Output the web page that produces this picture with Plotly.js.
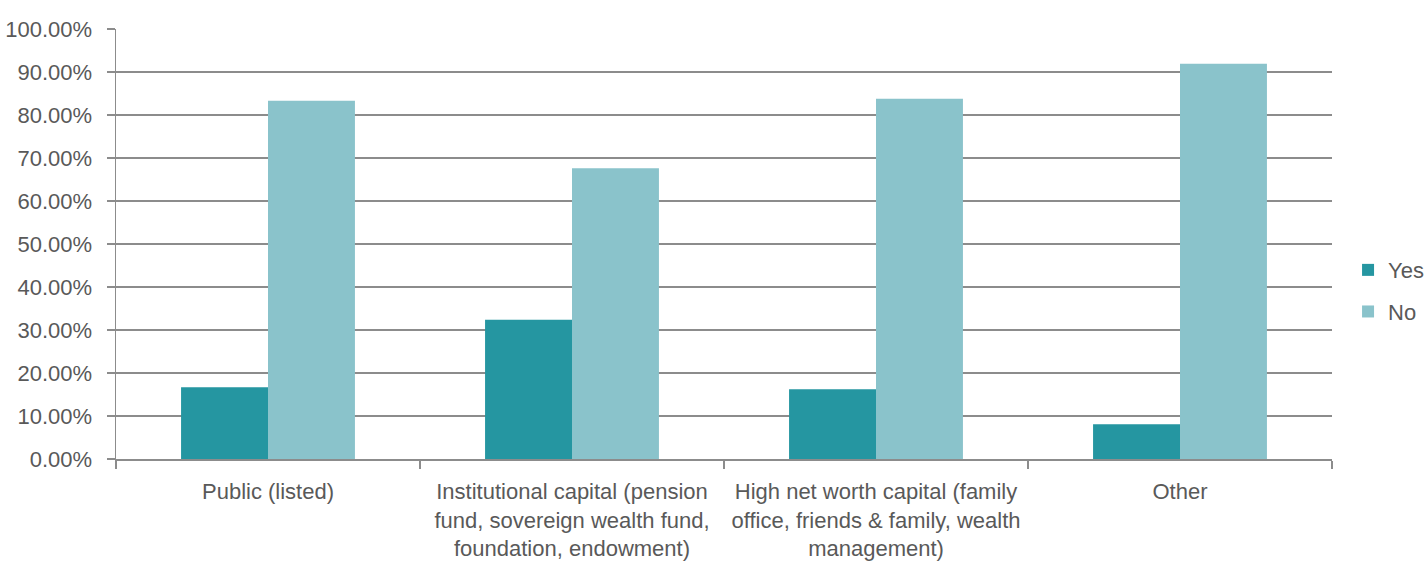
<!DOCTYPE html>
<html>
<head>
<meta charset="utf-8">
<script src="https://cdn.plot.ly/plotly-3.0.1.min.js"></script>
<style>html,body{margin:0;padding:0;background:#fff;}#chart{width:1425px;height:563px;}</style>
</head>
<body>
<div id="chart"></div>
<script>
const categories = [
  "Public (listed)",
  "Institutional capital (pension<br>fund, sovereign wealth fund,<br>foundation, endowment)",
  "High net worth capital (family<br>office, friends & family, wealth<br>management)",
  "Other"
];
const yesValues = [16.67, 32.4, 16.2, 8.1];
const noValues = [83.33, 67.6, 83.8, 91.9];
const yTickValues = [0, 10, 20, 30, 40, 50, 60, 70, 80, 90, 100];
const yTickLabels = ["0.00%", "10.00%", "20.00%", "30.00%", "40.00%", "50.00%", "60.00%", "70.00%", "80.00%", "90.00%", "100.00%"];

const fontFamily = '"Liberation Sans", Arial, sans-serif';
const textColor = '#595959';
const lineColor = '#8c8c8c';
const fs = 22;

const data = [
  {type: 'bar', name: 'Yes', legendgroup: 'a', x: categories, y: yesValues, marker: {color: '#2596a1'}, hoverinfo: 'skip'},
  {type: 'bar', name: 'No', legendgroup: 'b', x: categories, y: noValues, marker: {color: '#8ac3cb'}, hoverinfo: 'skip'}
];

const layout = {
  width: 1425, height: 563,
  margin: {l: 116, r: 93, t: 29, b: 104, pad: 0},
  paper_bgcolor: '#ffffff', plot_bgcolor: '#ffffff',
  font: {family: fontFamily, size: fs, color: textColor},
  barmode: 'group',
  bargap: 0.428,
  bargroupgap: 0,
  showlegend: true,
  legend: {xref: 'container', x: 0.946, xanchor: 'left', yref: 'container', y: 0.483, yanchor: 'middle',
           traceorder: 'grouped', tracegroupgap: 10,
           font: {family: fontFamily, size: fs, color: textColor}, bgcolor: 'rgba(0,0,0,0)', itemclick: false},
  xaxis: {
    type: 'category',
    showline: true, linecolor: lineColor, linewidth: 1.5,
    ticks: 'outside', tickson: 'boundaries', ticklen: 8, tickcolor: lineColor, tickwidth: 1.5,
    showgrid: false, zeroline: false, tickangle: 0,
    ticklabelstandoff: 12,
    tickfont: {family: fontFamily, size: fs, color: textColor},
    automargin: false
  },
  yaxis: {
    range: [0, 100],
    tickvals: yTickValues, ticktext: yTickLabels,
    showline: true, linecolor: lineColor, linewidth: 1.5,
    ticks: 'outside', ticklen: 8, tickcolor: lineColor, tickwidth: 1.5,
    showgrid: true, gridcolor: lineColor, gridwidth: 1.5,
    zeroline: false,
    ticklabelstandoff: 10,
    tickfont: {family: fontFamily, size: fs, color: textColor},
    automargin: false
  }
};

Plotly.newPlot('chart', data, layout, {displayModeBar: false, staticPlot: true});
</script>
</body>
</html>
